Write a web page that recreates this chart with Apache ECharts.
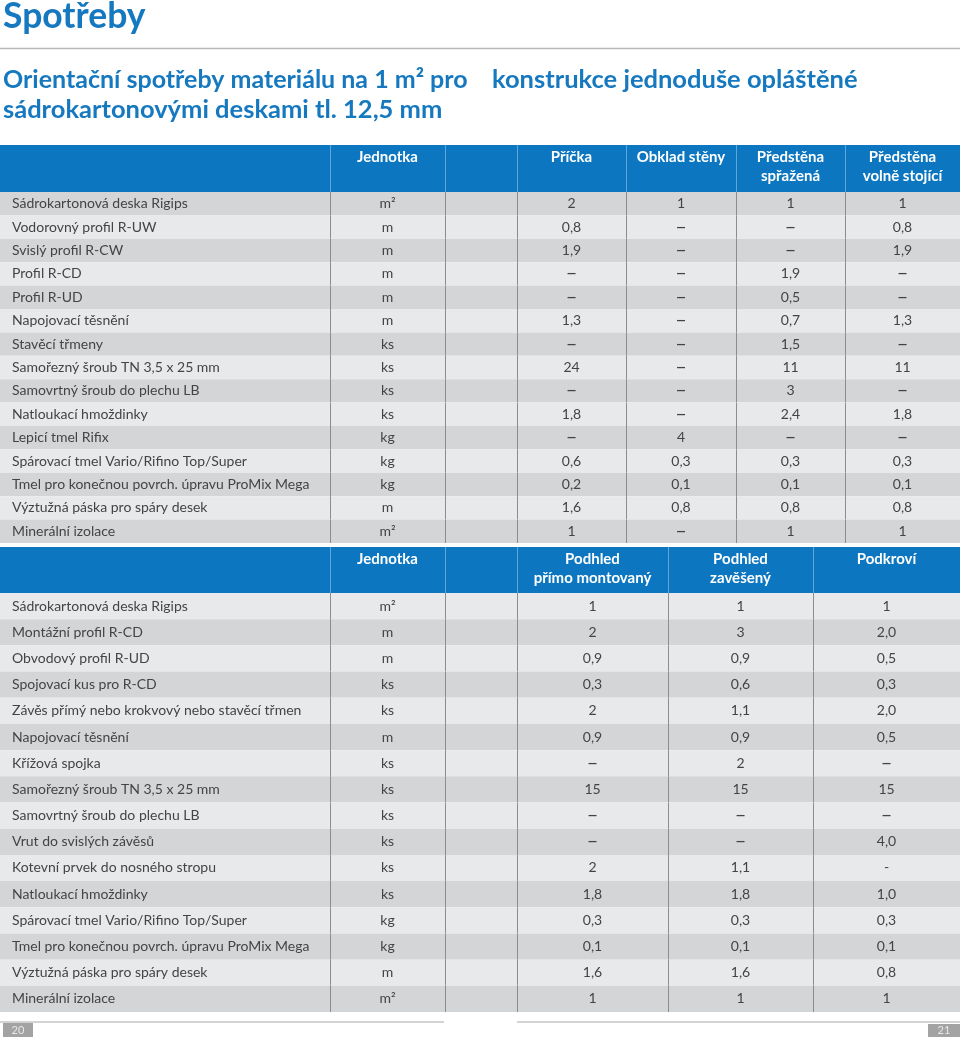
<!DOCTYPE html>
<html>
<head>
<meta charset="utf-8">
<script src="https://cdn.jsdelivr.net/npm/echarts@6/dist/echarts.min.js"></script>
<style>
html,body{margin:0;padding:0;background:#fff;}
#main{width:960px;height:1041px;}
</style>
</head>
<body>
<div id="main"></div>
<script>
// ---------- Table 1 data ----------
const HEAD1 = ['', 'Jednotka', '', 'Příčka', 'Obklad stěny', 'Předstěna\nspřažená', 'Předstěna\nvolně stojící'];
const ROWS1 = [
  'Sádrokartonová deska Rigips',
  'Vodorovný profil R-UW',
  'Svislý profil R-CW',
  'Profil R-CD',
  'Profil R-UD',
  'Napojovací těsnění',
  'Stavěcí třmeny',
  'Samořezný šroub TN 3,5 x 25 mm',
  'Samovrtný šroub do plechu LB',
  'Natloukací hmoždinky',
  'Lepicí tmel Rifix',
  'Spárovací tmel Vario/Rifino Top/Super',
  'Tmel pro konečnou povrch. úpravu ProMix Mega',
  'Výztužná páska pro spáry desek',
  'Minerální izolace'
];
const UNITS1 = ['m²','m','m','m','m','m','ks','ks','ks','ks','kg','kg','kg','m','m²'];
const PRICKA = ['2','0,8','1,9','–','–','1,3','–','24','–','1,8','–','0,6','0,2','1,6','1'];
const OBKLAD = ['1','–','–','–','–','–','–','–','–','–','4','0,3','0,1','0,8','–'];
const PREDSTENA_SPRAZENA = ['1','–','–','1,9','0,5','0,7','1,5','11','3','2,4','–','0,3','0,1','0,8','1'];
const PREDSTENA_VOLNE = ['1','0,8','1,9','–','–','1,3','–','11','–','1,8','–','0,3','0,1','0,8','1'];

// ---------- Table 2 data ----------
const HEAD2 = ['', 'Jednotka', '', 'Podhled\npřímo montovaný', 'Podhled\nzavěšený', 'Podkroví'];
const ROWS2 = [
  'Sádrokartonová deska Rigips',
  'Montážní profil R-CD',
  'Obvodový profil R-UD',
  'Spojovací kus pro R-CD',
  'Závěs přímý nebo krokvový nebo stavěcí třmen',
  'Napojovací těsnění',
  'Křížová spojka',
  'Samořezný šroub TN 3,5 x 25 mm',
  'Samovrtný šroub do plechu LB',
  'Vrut do svislých závěsů',
  'Kotevní prvek do nosného stropu',
  'Natloukací hmoždinky',
  'Spárovací tmel Vario/Rifino Top/Super',
  'Tmel pro konečnou povrch. úpravu ProMix Mega',
  'Výztužná páska pro spáry desek',
  'Minerální izolace'
];
const UNITS2 = ['m²','m','m','ks','ks','m','ks','ks','ks','ks','ks','ks','kg','kg','m','m²'];
const PODHLED_PRIMO = ['1','2','0,9','0,3','2','0,9','–','15','–','–','2','1,8','0,3','0,1','1,6','1'];
const PODHLED_ZAVESENY = ['1','3','0,9','0,6','1,1','0,9','2','15','–','–','1,1','1,8','0,3','0,1','1,6','1'];
const PODKROVI = ['1','2,0','0,5','0,3','2,0','0,5','–','15','–','4,0','-','1,0','0,3','0,1','0,8','1'];

const TITLE = 'Spotřeby';
const SUB1A = 'Orientační spotřeby materiálu na 1 m² pro';
const SUB1B = 'konstrukce jednoduše opláštěné';
const SUB2 = 'sádrokartonovými deskami tl. 12,5 mm';
const PAGE_L = '20', PAGE_R = '21';

// ---------- layout / style ----------
const EDGES1 = [0, 330, 445, 517, 626, 736, 845, 960];
const EDGES2 = [0, 330, 445, 517, 668, 813, 960];
const BLUE = '#0c77c0';
const TBLUE = '#1679bf';
const DARK = '#d4d5d7';
const LIGHT = '#e8e9eb';
const TXT = '#444444';
const FONT = 'Lato';

const VAL1 = [UNITS1, null, PRICKA, OBKLAD, PREDSTENA_SPRAZENA, PREDSTENA_VOLNE];
const VAL2 = [UNITS2, null, PODHLED_PRIMO, PODHLED_ZAVESENY, PODKROVI];

function bodyRender(edges, cols, firstDark) {
  return function (params, api) {
    const i = params.dataIndex;
    const cs = params.coordSys;
    const c = api.coord([0, i]);
    const h = api.size([0, 1])[1];
    const top = c[1] - h / 2;
    const X = v => api.coord([v, i])[0];
    const children = [{
      type: 'rect',
      shape: { x: cs.x, y: top, width: cs.width, height: h },
      style: { fill: ((i % 2 === 0) === firstDark) ? DARK : LIGHT }
    }];
    for (let k = 1; k < edges.length - 1; k++) {
      const x = Math.round(X(edges[k])) + 0.5;
      children.push({ type: 'line', shape: { x1: x, y1: top, x2: x, y2: top + h },
        style: { stroke: '#8c8c8c', lineWidth: 1 } });
    }
    cols.forEach((arr, k) => {
      if (!arr) return;
      const cx = X((edges[k + 1] + edges[k + 2]) / 2);
      const t = arr[i];
      const isDash = t === '–';
      children.push({ type: 'text', style: { text: t, x: cx, y: c[1] + (isDash ? -1 : 0), align: 'center', verticalAlign: 'middle',
        fill: TXT, font: (isDash ? '20px ' : '14px ') + FONT } });
    });
    return { type: 'group', children: children };
  };
}

function headRender(edges, heads, headH) {
  return function (params, api) {
    const cs = params.coordSys;
    const top = cs.y - headH;
    const X = v => api.coord([v, 0])[0];
    const children = [{ type: 'rect', shape: { x: cs.x, y: top, width: cs.width, height: headH }, style: { fill: BLUE } }];
    for (let k = 1; k < edges.length - 1; k++) {
      const x = Math.round(X(edges[k])) + 0.5;
      children.push({ type: 'line', shape: { x1: x, y1: top, x2: x, y2: top + headH },
        style: { stroke: 'rgba(255,255,255,0.35)', lineWidth: 1 } });
    }
    heads.forEach((t, k) => {
      if (!t) return;
      const cx = X((edges[k] + edges[k + 1]) / 2);
      children.push({ type: 'text', style: { text: t, x: cx, y: top + 2.5, align: 'center', verticalAlign: 'top',
        fill: '#fff', font: 'bold 15px ' + FONT, lineHeight: 19 } });
    });
    return { type: 'group', children: children };
  };
}

const chart = echarts.init(document.getElementById('main'), null, { renderer: 'canvas' });
const yAxisBase = (rows) => ({
  type: 'category', data: rows, inverse: true,
  axisLine: { show: false }, axisTick: { show: false }, splitLine: { show: false },
  axisLabel: { inside: true, margin: 12, interval: 0, color: TXT, fontFamily: FONT, fontSize: 14 },
  z: 10
});
const option = {
  backgroundColor: '#fff',
  animation: false,
  title: [
    { text: TITLE, left: 3, top: -1, padding: 0, textStyle: { color: TBLUE, fontFamily: FONT, fontWeight: 'bold', fontSize: 35.5, lineHeight: 35.5 } },
    { text: SUB1A, left: 3, top: 67, padding: 0, textStyle: { color: TBLUE, fontFamily: FONT, fontWeight: 'bold', fontSize: 25, lineHeight: 25.5 } },
    { text: SUB1B, left: 492, top: 67, padding: 0, textStyle: { color: TBLUE, fontFamily: FONT, fontWeight: 'bold', fontSize: 25.5, lineHeight: 25.5 } },
    { text: SUB2, left: 3, top: 97, padding: 0, textStyle: { color: TBLUE, fontFamily: FONT, fontWeight: 'bold', fontSize: 25.5, lineHeight: 25.5 } }
  ],
  graphic: [
    { type: 'line', shape: { x1: 0, y1: 48.5, x2: 960, y2: 48.5 }, style: { stroke: '#b8b8b8', lineWidth: 1.5 } },
    { type: 'line', shape: { x1: 0, y1: 1022, x2: 444, y2: 1022 }, style: { stroke: '#c4c4c4', lineWidth: 1.5 } },
    { type: 'line', shape: { x1: 517, y1: 1022, x2: 960, y2: 1022 }, style: { stroke: '#c4c4c4', lineWidth: 1.5 } },
    { type: 'rect', shape: { x: 3, y: 1023, width: 30, height: 14 }, style: { fill: '#a3a3a3' } },
    { type: 'text', style: { text: PAGE_L, x: 18, y: 1030, align: 'center', verticalAlign: 'middle', fill: '#e8e8e8', font: '11px ' + FONT } },
    { type: 'rect', shape: { x: 928, y: 1024, width: 32, height: 13 }, style: { fill: '#a3a3a3' } },
    { type: 'text', style: { text: PAGE_R, x: 944, y: 1030.5, align: 'center', verticalAlign: 'middle', fill: '#e8e8e8', font: '11px ' + FONT } }
  ],
  grid: [
    { left: 0, right: 0, top: 192, height: 351 },
    { left: 0, right: 0, top: 593, height: 419 }
  ],
  xAxis: [
    { type: 'value', gridIndex: 0, min: 0, max: 960, show: false },
    { type: 'value', gridIndex: 1, min: 0, max: 960, show: false }
  ],
  yAxis: [
    Object.assign({ gridIndex: 0 }, yAxisBase(ROWS1)),
    Object.assign({ gridIndex: 1 }, yAxisBase(ROWS2))
  ],
  series: [
    { type: 'custom', xAxisIndex: 0, yAxisIndex: 0, clip: false, z: 2,
      renderItem: bodyRender(EDGES1, VAL1, true), encode: { x: 0, y: 1 },
      data: ROWS1.map((r, i) => [0, i]) },
    { type: 'custom', xAxisIndex: 0, yAxisIndex: 0, clip: false, z: 2,
      renderItem: headRender(EDGES1, HEAD1, 47), encode: { x: 0, y: 1 }, data: [[0, 0]] },
    { type: 'custom', xAxisIndex: 1, yAxisIndex: 1, clip: false, z: 2,
      renderItem: bodyRender(EDGES2, VAL2, false), encode: { x: 0, y: 1 },
      data: ROWS2.map((r, i) => [0, i]) },
    { type: 'custom', xAxisIndex: 1, yAxisIndex: 1, clip: false, z: 2,
      renderItem: headRender(EDGES2, HEAD2, 46), encode: { x: 0, y: 1 }, data: [[0, 0]] }
  ]
};
chart.setOption(option);
</script>
</body>
</html>
